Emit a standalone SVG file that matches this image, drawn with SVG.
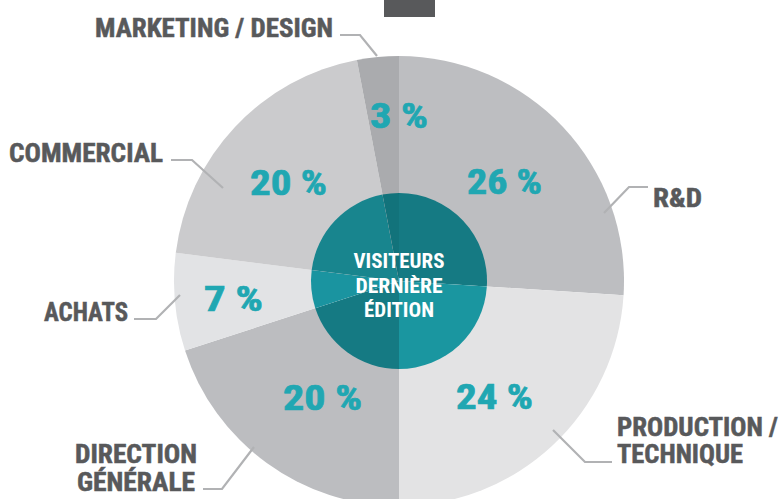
<svg xmlns="http://www.w3.org/2000/svg" width="784" height="499" viewBox="0 0 784 499">
<style>
.lbl{font-family:"Roboto Condensed","Liberation Sans Narrow",Roboto,"Liberation Sans",sans-serif;font-weight:700;font-size:26px;fill:#58595b;stroke:#58595b;stroke-width:0.5}
.two{font-size:25px}
.pct{font-family:"Roboto Condensed","Liberation Sans Narrow",Roboto,"Liberation Sans",sans-serif;font-weight:700;font-size:35px;fill:#20a7b2;stroke:#20a7b2;stroke-width:0.7}
.ctr{font-family:"Roboto Condensed","Liberation Sans Narrow",Roboto,"Liberation Sans",sans-serif;font-weight:700;font-size:20.5px;fill:#ffffff;text-anchor:middle}
.lead{fill:none;stroke:#b1b2b4;stroke-width:2.2}
</style>
<rect x="384" y="0" width="51" height="17" fill="#58595b"/>
<g id="slice-rd">
<path d="M399 281 L399 56 A225 225 0 0 1 623.56 295.13 Z" fill="#bdbec1"/>
<path d="M399 281 L399 193 A88 88 0 0 1 486.83 286.53 Z" fill="#157a83"/>
<text class="pct" x="467" y="194" textLength="75" lengthAdjust="spacingAndGlyphs">26 %</text>
</g>
<g id="slice-production">
<path d="M399 281 L623.56 295.13 A225 225 0 0 1 399 506 Z" fill="#e3e3e4"/>
<path d="M399 281 L486.83 286.53 A88 88 0 0 1 399 369 Z" fill="#1a96a0"/>
<text class="pct" x="456" y="409" textLength="77" lengthAdjust="spacingAndGlyphs">24 %</text>
</g>
<g id="slice-direction">
<path d="M399 281 L399 506 A225 225 0 0 1 185.01 350.53 Z" fill="#bcbdc0"/>
<path d="M399 281 L399 369 A88 88 0 0 1 315.31 308.19 Z" fill="#157a83"/>
<text class="pct" x="283" y="410" textLength="79" lengthAdjust="spacingAndGlyphs">20 %</text>
</g>
<g id="slice-achats">
<path d="M399 281 L185.01 350.53 A225 225 0 0 1 175.78 252.80 Z" fill="#e2e3e5"/>
<path d="M399 281 L315.31 308.19 A88 88 0 0 1 311.69 269.97 Z" fill="#1a94a0"/>
<text class="pct" x="204" y="311" textLength="59" lengthAdjust="spacingAndGlyphs">7 %</text>
</g>
<g id="slice-commercial">
<path d="M399 281 L175.78 252.80 A225 225 0 0 1 356.84 59.98 Z" fill="#cbcbcd"/>
<path d="M399 281 L311.69 269.97 A88 88 0 0 1 382.51 194.56 Z" fill="#18858e"/>
<text class="pct" x="250" y="195" textLength="77" lengthAdjust="spacingAndGlyphs">20 %</text>
</g>
<g id="slice-marketing">
<path d="M399 281 L356.84 59.98 A225 225 0 0 1 399 56 Z" fill="#aaabae"/>
<path d="M399 281 L382.51 194.56 A88 88 0 0 1 399 193 Z" fill="#12737b"/>
<text class="pct" x="370" y="128" textLength="58" lengthAdjust="spacingAndGlyphs">3 %</text>
</g>
<g id="center">
<text class="ctr" x="399" y="268" textLength="91" lengthAdjust="spacingAndGlyphs">VISITEURS</text>
<text class="ctr" x="399" y="293" textLength="87" lengthAdjust="spacingAndGlyphs">DERNIÈRE</text>
<text class="ctr" x="399" y="317" textLength="70" lengthAdjust="spacingAndGlyphs">ÉDITION</text>
</g>
<g id="connectors">
<polyline class="lead" points="340,35 360,35 377,56"/>
<polyline class="lead" points="171,160 192,160 223,188"/>
<polyline class="lead" points="648,187 629,187 604,213"/>
<polyline class="lead" points="134,319 156,319 180,295"/>
<polyline class="lead" points="553,430 585,462 612,462"/>
<polyline class="lead" points="254,447 222,489 203,489"/>
</g>
<g id="labels">
<text class="lbl" x="95" y="37" textLength="238" lengthAdjust="spacingAndGlyphs">MARKETING / DESIGN</text>
<text class="lbl" x="9" y="162" textLength="154" lengthAdjust="spacingAndGlyphs">COMMERCIAL</text>
<text class="lbl" x="653" y="207" textLength="49" lengthAdjust="spacingAndGlyphs">R&amp;D</text>
<text class="lbl" x="44" y="321" textLength="84" lengthAdjust="spacingAndGlyphs">ACHATS</text>
<text class="lbl two" x="617" y="436" textLength="161" lengthAdjust="spacingAndGlyphs">PRODUCTION /</text>
<text class="lbl two" x="617" y="463" textLength="126" lengthAdjust="spacingAndGlyphs">TECHNIQUE</text>
<text class="lbl two" x="75" y="463" textLength="122" lengthAdjust="spacingAndGlyphs">DIRECTION</text>
<text class="lbl two" x="77" y="491" textLength="118" lengthAdjust="spacingAndGlyphs">GÉNÉRALE</text>
</g>
</svg>
